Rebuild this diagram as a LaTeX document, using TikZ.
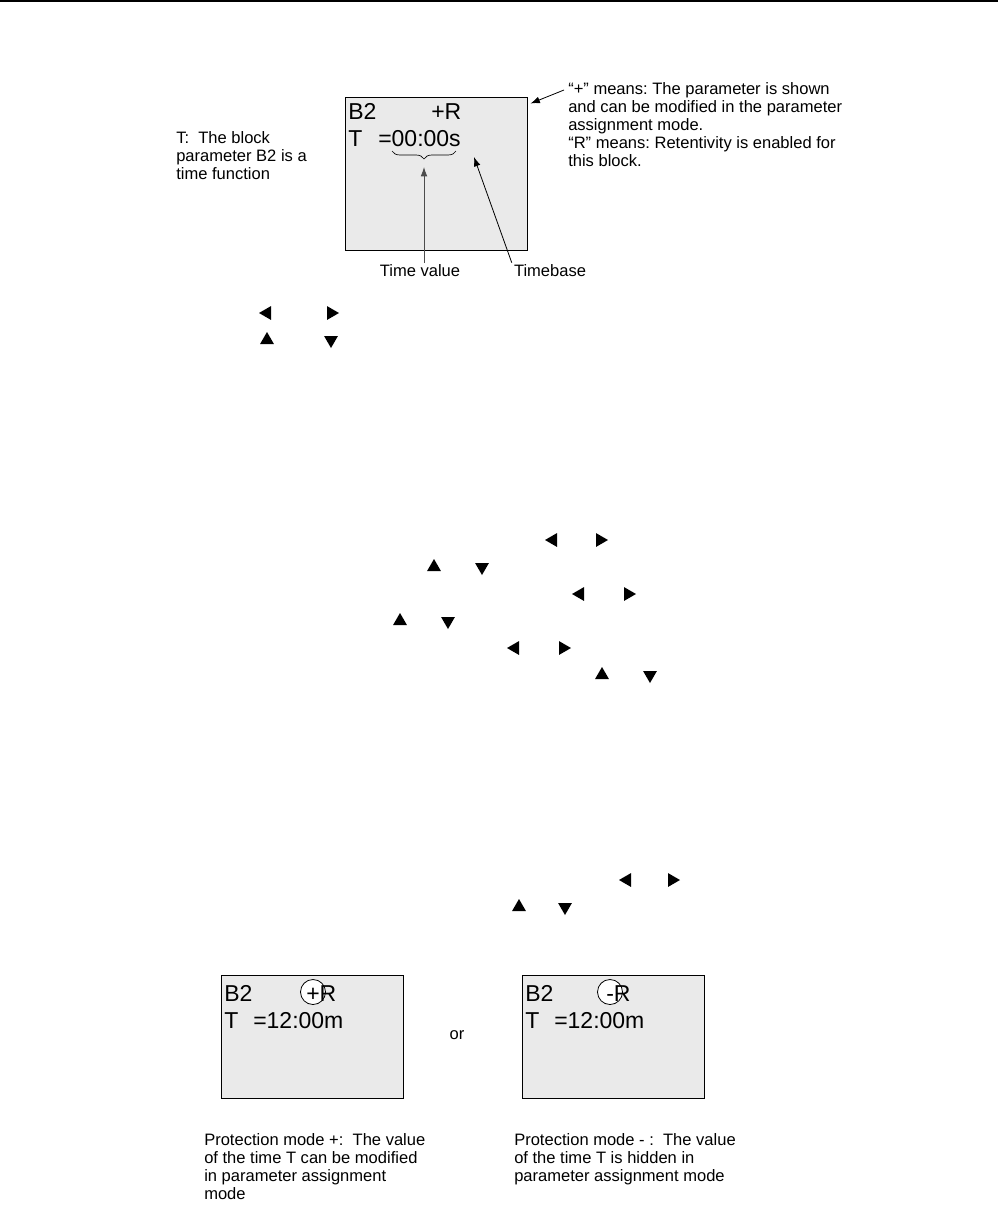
\documentclass[tikz,border=0pt]{standalone}
\usepackage{fontspec}
\setmainfont{Liberation Sans}
\usetikzlibrary{shapes.geometric,arrows.meta,decorations.pathreplacing}
\definecolor{lcdgray}{HTML}{EAEAEA}
\frenchspacing
\begin{document}
\begin{tikzpicture}[x=0.75pt,y=-0.75pt,
  lcd/.style={draw=black,line width=0.75pt,fill=lcdgray,inner sep=0,minimum width=136.5pt},
  lcdtxt/.style={font=\fontsize{17.25}{20}\selectfont,anchor=base west,inner sep=0},
  body/.style={font=\fontsize{12.4}{13.5}\selectfont,align=left,anchor=north west,inner sep=0},
  lbl/.style={font=\fontsize{12.4}{13.5}\selectfont,inner sep=1.5pt},
  tri/.style={regular polygon,regular polygon sides=3,fill=black,inner sep=0,minimum size=12pt},
  tleft/.style={tri,shape border rotate=90},
  tright/.style={tri,shape border rotate=270},
  tup/.style={tri},
  tdown/.style={tri,shape border rotate=180},
  arr/.style={-{Latex[length=7pt,width=5pt]},line width=0.6pt},
  ring/.style={circle,draw=black,line width=0.6pt,fill=white,minimum size=18.75pt,inner sep=0}
]
\useasboundingbox (0,0) rectangle (998,1222);
% top rule
\draw[line width=1.2pt] (0,0.8) -- (998,0.8);

% ---------- top display ----------
\node[lcd,minimum height=114.75pt] (lcd1) at (436,173.5) {};
\node[lcdtxt] (b2a) at (348,119) {B2};
\node[lcdtxt] (pra) at (431,119) {+R};
\node[lcdtxt] (ta) at (348,146) {T};
\node[lcdtxt] (va) at (378,146) {=00:00s};
\coordinate (brl) at (392,151);
\coordinate (brr) at (456,151);
\draw[line width=0.5pt,decorate,decoration={brace,mirror,amplitude=6pt}] (brl) -- (brr);
\coordinate (brtip) at (424,163);

\node[lbl] (tv) at (420,271) {Time value};
\node[lbl] (tb) at (550,271) {Timebase};
\draw[arr,draw=black!70] (tv.north -| brtip) -- ([yshift=-3]brtip);
\coordinate (tbtip) at (474,157);
\draw[arr] (tb.north west) -- (tbtip);

\node[body] (lt) at (176,131) {T:~ The block\\parameter B2 is a\\time function};
\node[body] (rt) at (568,82) {“+” means: The parameter is shown\\and can be modified in the parameter\\assignment mode.\\“R” means: Retentivity is enabled for\\this block.};
\coordinate (rtail) at (564,90);
\draw[arr] (rtail) -- ([shift={(3,7)}]lcd1.north east);

% ---------- key triangles ----------
\node[tleft]  (k1) at (267,313) {};
\node[tright] (k2) at (331,313) {};
\node[tup]    (k3) at (267,340) {};
\node[tdown]  (k4) at (331,340) {};

\node[tleft]  (k5) at (553,540) {};
\node[tright] (k6) at (600,540) {};
\node[tup]    (k7) at (434,567) {};
\node[tdown]  (k8) at (482,567) {};
\node[tleft]  (k9) at (580,594) {};
\node[tright] (k10) at (628,594) {};
\node[tup]    (k11) at (400,621) {};
\node[tdown]  (k12) at (448,621) {};
\node[tleft]  (k13) at (515,648) {};
\node[tright] (k14) at (563,648) {};
\node[tup]    (k15) at (602,675) {};
\node[tdown]  (k16) at (650,675) {};

\node[tleft]  (k17) at (627,880) {};
\node[tright] (k18) at (672,880) {};
\node[tup]    (k19) at (519,907) {};
\node[tdown]  (k20) at (565,907) {};

% ---------- bottom displays ----------
\node[lcd,minimum height=92.25pt] (lcd2) at (312,1036.5) {};
\node[ring] (c2) at (313,992) {};
\node[lcdtxt] (b2b) at (224,1001) {B2};
\node[lcdtxt] (prb) at (306,1001) {+R};
\node[lcdtxt] (tbx) at (224,1028) {T};
\node[lcdtxt] (vb) at (253,1028) {=12:00m};

\node[lbl] (or) at (457,1035) {or};

\node[lcd,minimum height=92.25pt] (lcd3) at (613,1036.5) {};
\node[ring] (c3) at (610,992) {};
\node[lcdtxt] (b2c) at (525,1001) {B2};
\node[lcdtxt] (prc) at (606,1001) {-R};
\node[lcdtxt] (tcx) at (525,1028) {T};
\node[lcdtxt] (vc) at (554,1028) {=12:00m};

\node[body] (bl) at (204,1133) {Protection mode +:~ The value\\of the time T can be modified\\in parameter assignment\\mode};
\node[body] (br) at (514,1133) {Protection mode - :~ The value\\of the time T is hidden in\\parameter assignment mode};
\end{tikzpicture}
\end{document}
